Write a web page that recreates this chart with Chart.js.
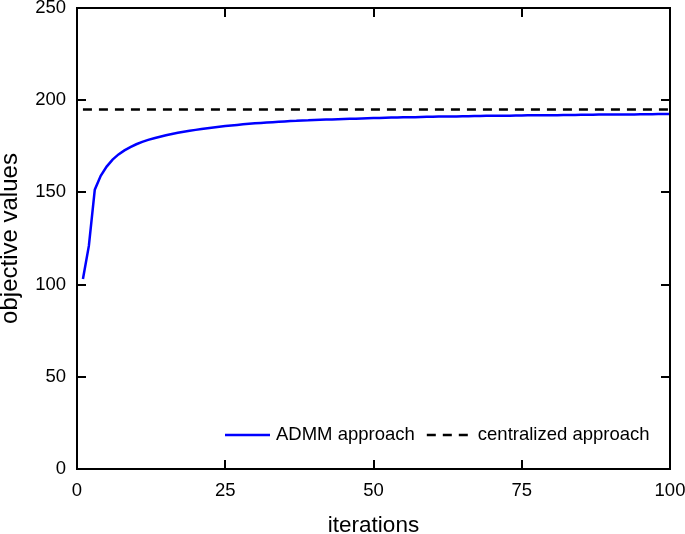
<!DOCTYPE html>
<html>
<head>
<meta charset="utf-8">
<script src="https://cdn.jsdelivr.net/npm/chart.js@4/dist/chart.umd.min.js"></script>
<style>
  html, body { margin: 0; padding: 0; background: #fff; }
  canvas { display: block; }
</style>
</head>
<body>
<canvas id="chart" width="685" height="534"></canvas>
<script>
// values
const iterations = [];
for (let i = 1; i <= 100; i++) iterations.push(i);

const admmValues = [
  103.0, 121.0, 151.5, 159.0, 164.0, 167.8, 170.6, 172.8, 174.6, 176.1,
  177.4, 178.5, 179.4, 180.2, 181.0, 181.7, 182.3, 182.9, 183.4, 183.9,
  184.4, 184.8, 185.2, 185.6, 186.0, 186.3, 186.6, 186.9, 187.2, 187.5,
  187.7, 187.9, 188.1, 188.3, 188.5, 188.7, 188.8, 189.0, 189.1, 189.3,
  189.4, 189.5, 189.6, 189.7, 189.8, 189.9, 190.0, 190.1, 190.2, 190.3,
  190.4, 190.5, 190.6, 190.6, 190.7, 190.8, 190.8, 190.9, 191.0, 191.0,
  191.1, 191.1, 191.2, 191.2, 191.3, 191.3, 191.4, 191.4, 191.5, 191.5,
  191.6, 191.6, 191.6, 191.7, 191.7, 191.8, 191.8, 191.8, 191.9, 191.9,
  191.9, 192.0, 192.0, 192.0, 192.1, 192.1, 192.1, 192.2, 192.2, 192.2,
  192.3, 192.3, 192.3, 192.3, 192.4, 192.4, 192.4, 192.5, 192.5, 192.5
];

const centralizedIters = [1, 100];
const centralizedValues = [195, 195];

const xTicks = [0, 25, 50, 75, 100];
const yTicks = [0, 50, 100, 150, 200, 250];

const FONT = "'Liberation Sans', Arial, sans-serif";

// box around the plot with inward ticks on all four sides
const frameTicks = {
  id: "frameTicks",
  afterDraw(chart) {
    const { ctx, chartArea: a, scales } = chart;
    const len = 9;
    ctx.save();
    ctx.strokeStyle = "#000";
    ctx.lineWidth = 2;
    ctx.strokeRect(a.left, a.top, a.right - a.left, a.bottom - a.top);
    ctx.beginPath();
    xTicks.forEach(v => {
      const px = Math.round(scales.x.getPixelForValue(v));
      ctx.moveTo(px, a.bottom); ctx.lineTo(px, a.bottom - len);
      ctx.moveTo(px, a.top); ctx.lineTo(px, a.top + len);
    });
    yTicks.forEach(v => {
      const py = Math.round(scales.y.getPixelForValue(v));
      ctx.moveTo(a.left, py); ctx.lineTo(a.left + len, py);
      ctx.moveTo(a.right, py); ctx.lineTo(a.right - len, py);
    });
    ctx.stroke();
    ctx.restore();
  }
};

// legend drawn inside the plot, bottom right
const innerLegend = {
  id: "innerLegend",
  afterDraw(chart) {
    const { ctx, chartArea: a } = chart;
    const y = a.bottom - 34;
    const sample = 45;
    ctx.save();
    ctx.font = "18.5px " + FONT;
    ctx.textBaseline = "middle";
    ctx.fillStyle = "#000";
    let x = a.left + 148;
    chart.data.datasets.forEach(ds => {
      ctx.strokeStyle = ds.borderColor;
      ctx.lineWidth = ds.borderWidth;
      ctx.setLineDash(ds.borderDash || []);
      ctx.beginPath();
      ctx.moveTo(x, y); ctx.lineTo(x + sample, y);
      ctx.stroke();
      ctx.setLineDash([]);
      x += sample + 6;
      ctx.fillText(ds.label, x, y);
      x += ctx.measureText(ds.label).width + 12;
    });
    ctx.restore();
  }
};

const ctx = document.getElementById("chart").getContext("2d");
new Chart(ctx, {
  type: "line",
  data: {
    datasets: [
      {
        label: "ADMM approach",
        data: iterations.map((it, i) => ({ x: it, y: admmValues[i] })),
        borderColor: "#0000ff",
        borderWidth: 2.5,
        pointRadius: 0,
        tension: 0,
        fill: false
      },
      {
        label: "centralized approach",
        data: centralizedIters.map((it, i) => ({ x: it, y: centralizedValues[i] })),
        borderColor: "#000000",
        borderWidth: 2.5,
        borderDash: [9, 7],
        pointRadius: 0,
        fill: false
      }
    ]
  },
  options: {
    responsive: false,
    animation: false,
    layout: { padding: { top: 8, right: 15, left: 0, bottom: 0 } },
    plugins: {
      legend: { display: false },
      tooltip: { enabled: false }
    },
    scales: {
      x: {
        type: "linear",
        min: 0,
        max: 100,
        afterBuildTicks(scale) { scale.ticks = xTicks.map(v => ({ value: v })); },
        afterFit(scale) {
          scale.height = 65;
          scale.paddingLeft = 0;
          scale.paddingRight = 0;
        },
        grid: { display: false, drawTicks: false },
        border: { display: false },
        ticks: { color: "#000", padding: 11, maxRotation: 0, font: { family: FONT, size: 18.5 } },
        title: { display: true, text: "iterations", color: "#000", padding: { top: 0, bottom: 0 }, font: { family: FONT, size: 22.5, lineHeight: 0.75 } }
      },
      y: {
        min: 0,
        max: 250,
        afterBuildTicks(scale) { scale.ticks = yTicks.map(v => ({ value: v })); },
        afterFit(scale) {
          scale.width = 77;
          scale.paddingTop = 0;
          scale.paddingBottom = 0;
        },
        grid: { display: false, drawTicks: false },
        border: { display: false },
        ticks: { color: "#000", padding: 11, font: { family: FONT, size: 18.5 } },
        title: { display: true, text: "objective values", color: "#000", padding: { top: 0, bottom: 0 }, font: { family: FONT, size: 24, lineHeight: 0.85 } }
      }
    }
  },
  plugins: [frameTicks, innerLegend]
});
</script>
</body>
</html>
